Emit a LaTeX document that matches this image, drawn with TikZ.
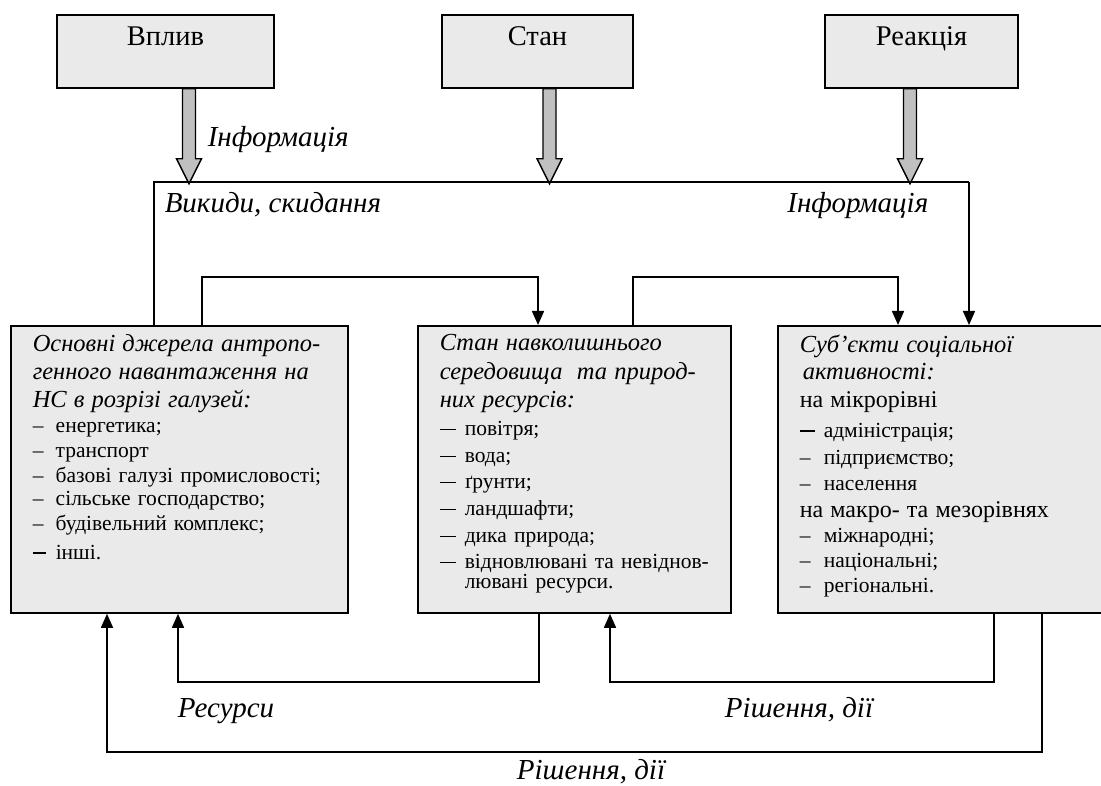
\documentclass[tikz,border=0pt]{standalone}
\usepackage{fontspec}
\setmainfont{Liberation Serif}
\usetikzlibrary{arrows.meta}
\definecolor{boxgray}{RGB}{234,234,234}
\definecolor{arrgray}{RGB}{192,192,192}
\newcommand\hdf{\fontsize{24.5}{25}\selectfont\itshape}
\newcommand\itf{\fontsize{21.5}{25}\selectfont\upshape}
\newcommand\bgf{\fontsize{24}{25}\selectfont\upshape}
\newcommand\tightls{\lineskiplimit=-100pt\relax\lineskip=0pt\relax}
\newcommand\ndsh[1]{\makebox[#1][l]{–}}
\newcommand\mdsh[2]{\makebox[#1][l]{\rule[5.5pt]{#2}{1.4pt}}}
\newcommand\fatarrow[2]{\filldraw[fat] ([xshift=#2pt-6.5pt]#1.south) -- ++(13,0) -- ++(0,70) -- ++(6,0) -- ++(-12.5,25) -- ++(-12.5,-25) -- ++(6,0) -- cycle;}
\begin{document}
\begin{tikzpicture}[x=1pt,y=-1pt,line width=1.5pt,
  topbox/.style={draw, line width=1.8pt, fill=boxgray, inner sep=0pt, anchor=north,
    font=\fontsize{28.5}{30}\selectfont, text height=31pt, text depth=42pt},
  bigbox/.style={draw, line width=1.8pt, fill=boxgray, inner sep=0pt, anchor=north west,
    minimum height=287pt},
  txt/.style={inner sep=0pt, anchor=north west, align=left, text width=320pt,
    font=\itf\tightls},
  lbl/.style={inner sep=0pt, anchor=base, font=\fontsize{29}{30}\selectfont\itshape},
  fat/.style={fill=arrgray, draw=black, line width=1.4pt, line join=miter},
  conn/.style={draw, line width=1.5pt},
  arr/.style={conn, -{Triangle[width=12pt,length=14pt]}}
]
\useasboundingbox (0,0) rectangle (1101,786);

% top boxes
\node[topbox, minimum width=217pt] (vplyv) at (165.5,14) {Вплив};
\node[topbox, minimum width=191pt] (stan) at (537.5,14) {Стан};
\node[topbox, minimum width=193pt] (reak) at (921.5,14) {Реакція};

% big boxes
\node[bigbox, minimum width=337pt] (left) at (10,325) {};
\node[bigbox, minimum width=313pt] (mid) at (417,325) {};
\node[bigbox, minimum width=325pt] (right) at (777,325) {};

% coordinates
\coordinate (il) at (154,182);
\coordinate (ir) at (969,182);
\coordinate (ua) at (202,277);
\coordinate (ub) at (538,277);
\coordinate (uc) at (633,277);
\coordinate (ud) at (898,277);
\coordinate (da) at (539,682);
\coordinate (db) at (178,682);
\coordinate (dc) at (994,682);
\coordinate (dd) at (610,682);
\coordinate (de) at (1042,752);
\coordinate (df) at (107,752);

% fat arrows
\fatarrow{vplyv}{23.5}
\fatarrow{stan}{12}
\fatarrow{reak}{-11.5}

% information line
\draw[conn] (left.north -| il) -- (il) -- (ir);
\draw[arr] (ir) -- (right.north -| ir);

% upper connectors
\draw[arr] (left.north -| ua) -- (ua) -- (ub) -- (mid.north -| ub);
\draw[arr] (mid.north -| uc) -- (uc) -- (ud) -- (right.north -| ud);

% lower connectors
\draw[arr] (mid.south -| da) -- (da) -- (db) -- (left.south -| db);
\draw[arr] (right.south -| dc) -- (dc) -- (dd) -- (mid.south -| dd);
\draw[arr] (right.south -| de) -- (de) -- (df) -- (left.south -| df);

% labels
\node[lbl, anchor=base west] (l1) at (207,147) {Інформація};
\node[lbl, anchor=base west] (l2) at (164,213) {Викиди, скидання};
\node[lbl, anchor=base east] (l3) at (929,213) {Інформація};
\node[lbl] (l4) at (226,717) {Ресурси};
\node[lbl] (l5) at (799,717) {Рішення, дії};
\node[lbl] (l6) at (591,779) {Рішення, дії};

% box texts
\node[txt] (lt) at (32,334) {\hdf Основні джерела антропо-\\[2.5pt]
\hdf генного навантаження на\\[3pt]
\hdf НС в розрізі галузей:\\[0pt]
\itf\ndsh{23pt}енергетика;\\
\itf\ndsh{23pt}транспорт\\
\itf\ndsh{23pt}базові галузі промисловості;\\[-2pt]
\itf\ndsh{23pt}сільське господарство;\\
\itf\ndsh{23pt}будівельний комплекс;\\[4pt]
\itf\mdsh{23pt}{13pt}інші.};

\node[txt] (mt) at (439,334) {\hdf Стан навколишнього\\[4pt]
\hdf середовища~ та природ-\\[3pt]
\hdf них ресурсів:\\[3pt]
\itf\mdsh{25pt}{16pt}повітря;\\[2pt]
\itf\mdsh{25pt}{16pt}вода;\\[1pt]
\itf\mdsh{25pt}{16pt}ґрунти;\\[2pt]
\itf\mdsh{25pt}{16pt}ландшафти;\\[2pt]
\itf\mdsh{25pt}{16pt}дика природа;\\[1pt]
\itf\mdsh{25pt}{16pt}відновлювані та невіднов-\\[-5pt]
\itf\hspace*{25pt}лювані ресурси.};

\node[txt] (rt) at (799,334) {\hdf Суб’єкти соціальної\\[2pt]
\hdf\hspace*{3pt}активності:\\[3pt]
\bgf на мікрорівні\\[5pt]
\itf\mdsh{24pt}{15pt}адміністрація;\\[2pt]
\itf\ndsh{24pt}підприємство;\\[1pt]
\itf\ndsh{24pt}населення\\[2pt]
\bgf на макро- та мезорівнях\\[0pt]
\itf\ndsh{24pt}міжнародні;\\
\itf\ndsh{24pt}національні;\\
\itf\ndsh{24pt}регіональні.};
\end{tikzpicture}
\end{document}
